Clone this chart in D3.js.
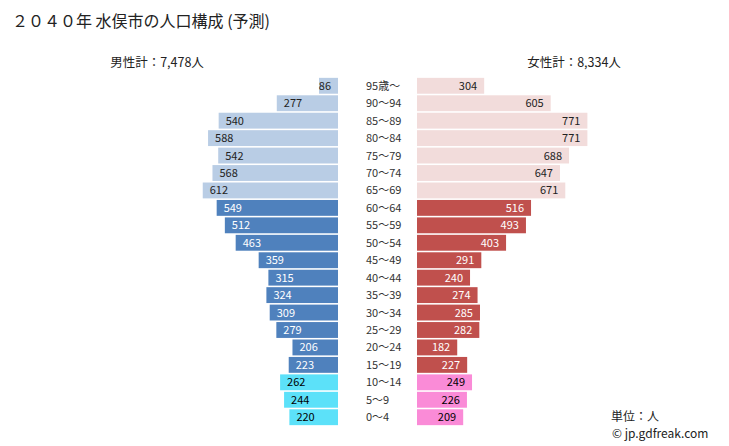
<!DOCTYPE html>
<html>
<head>
<meta charset="utf-8">
<script src="https://cdn.jsdelivr.net/npm/d3@7"></script>
<style>
  body { margin: 0; background: #fff; }
  text { font-family: "Noto Sans CJK JP", "DejaVu Sans", sans-serif; }
</style>
</head>
<body>
<script>
var ages = ["95歳～", "90～94", "85～89", "80～84", "75～79", "70～74", "65～69",
            "60～64", "55～59", "50～54", "45～49", "40～44", "35～39", "30～34",
            "25～29", "20～24", "15～19", "10～14", "5～9", "0～4"];
var male = [86, 277, 540, 588, 542, 568, 612, 549, 512, 463, 359, 315, 324, 309, 279, 206, 223, 262, 244, 220];
var female = [304, 605, 771, 771, 688, 647, 671, 516, 493, 403, 291, 240, 274, 285, 282, 182, 227, 249, 226, 209];
var maleTotal = "男性計：7,478人",
    femaleTotal = "女性計：8,334人";

var width = 729, height = 446;
var maleRight = 338, femaleLeft = 417;

// colour groups: 65+ / 15-64 / 0-14
function group(i) { return i < 7 ? 0 : (i < 17 ? 1 : 2); }
var maleFill = ["#b9cde5", "#4f81bd", "#5ce1f9"],
    femaleFill = ["#f2dcdb", "#c0504d", "#fa8bd7"],
    labelFill = ["#222", "#fff", "#000"];

var svg = d3.select("body").append("svg")
    .attr("width", width)
    .attr("height", height);

var x = d3.scaleLinear().domain([0, 800]).range([0, 176.8]);
var y = d3.scaleBand().domain(ages).range([77.5, 425.5]).paddingInner(0.09).paddingOuter(0.02);

svg.append("text").attr("x", 12).attr("y", 27)
    .style("font-size", "16px").attr("fill", "#222")
    .text("２０４０年 水俣市の人口構成 (予測)");

svg.append("text").attr("x", 157).attr("y", 67).attr("text-anchor", "middle")
    .style("font-size", "12.5px").attr("fill", "#222").text(maleTotal);
svg.append("text").attr("x", 574).attr("y", 67).attr("text-anchor", "middle")
    .style("font-size", "12.5px").attr("fill", "#222").text(femaleTotal);

// male bars
var mg = svg.append("g").selectAll("g").data(male).enter().append("g");
mg.append("rect")
    .attr("x", function(d) { return maleRight - x(d); })
    .attr("y", function(d, i) { return y(ages[i]); })
    .attr("width", function(d) { return x(d); })
    .attr("height", y.bandwidth())
    .attr("fill", function(d, i) { return maleFill[group(i)]; });
mg.append("text")
    .attr("x", function(d) {
      var w = x(d);
      return w < 40 ? maleRight - 7 : maleRight - w + 7;
    })
    .attr("text-anchor", function(d) { return x(d) < 40 ? "end" : "start"; })
    .attr("y", function(d, i) { return y(ages[i]) + y.bandwidth() / 2 + 4; })
    .style("font-size", "11px")
    .attr("fill", function(d, i) { return labelFill[group(i)]; })
    .text(function(d) { return d; });

// female bars
var fg = svg.append("g").selectAll("g").data(female).enter().append("g");
fg.append("rect")
    .attr("x", femaleLeft)
    .attr("y", function(d, i) { return y(ages[i]); })
    .attr("width", function(d) { return x(d); })
    .attr("height", y.bandwidth())
    .attr("fill", function(d, i) { return femaleFill[group(i)]; });
fg.append("text")
    .attr("x", function(d) { return femaleLeft + x(d) - 7; })
    .attr("text-anchor", "end")
    .attr("y", function(d, i) { return y(ages[i]) + y.bandwidth() / 2 + 4; })
    .style("font-size", "11px")
    .attr("fill", function(d, i) { return labelFill[group(i)]; })
    .text(function(d) { return d; });

// age labels
svg.append("g").selectAll("text").data(ages).enter().append("text")
    .attr("x", 366)
    .attr("y", function(d) { return y(d) + y.bandwidth() / 2 + 4; })
    .style("font-size", "11px").attr("fill", "#333")
    .text(function(d) { return d; });

svg.append("text").attr("x", 611).attr("y", 421)
    .style("font-size", "12px").attr("fill", "#222").text("単位：人");
svg.append("text").attr("x", 612).attr("y", 438)
    .style("font-size", "12px").attr("fill", "#222").text("© jp.gdfreak.com");
</script>
</body>
</html>
